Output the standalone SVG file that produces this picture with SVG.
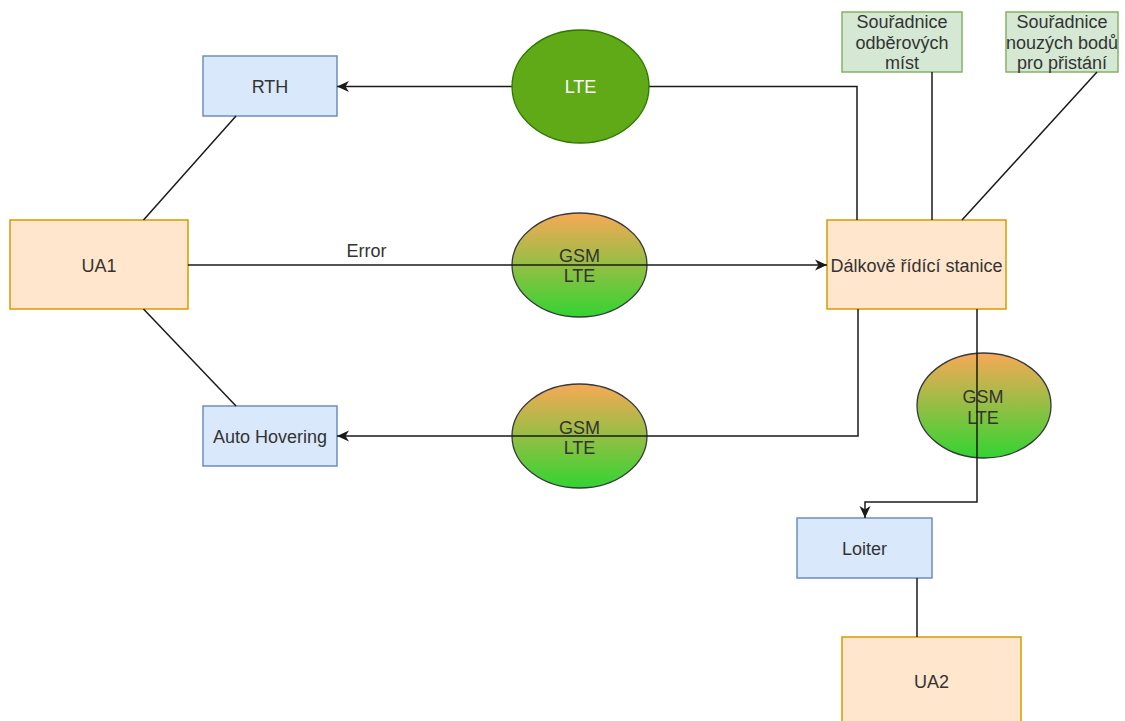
<svg xmlns="http://www.w3.org/2000/svg" width="1125" height="721" viewBox="0 0 1125 721">
  <style>
    text { font-family: "Liberation Sans", Arial, sans-serif; font-size: 18px; fill: #333333; text-anchor: middle; }
    .orange { fill: #ffe6cc; stroke: #d79b00; stroke-width: 1.5; }
    .blue { fill: #dae8fc; stroke: #6c8ebf; stroke-width: 1.5; }
    .green { fill: #d5e8d4; stroke: #82b366; stroke-width: 1.5; }
    .lte { fill: #60a917; stroke: #2d7600; stroke-width: 1.3; }
    .edge { fill: none; stroke: #1a1a1a; stroke-width: 1.5; }
    .white { fill: #ffffff; }
  </style>
  <defs>
    <linearGradient id="gsmFill" x1="0" y1="0" x2="0" y2="1">
      <stop offset="0" stop-color="#f7a956"/>
      <stop offset="1" stop-color="#32d432"/>
    </linearGradient>
    <marker id="arrow" markerUnits="userSpaceOnUse" markerWidth="14" markerHeight="12" viewBox="-12 -6 14 12" refX="0" refY="0" orient="auto">
      <path d="M0,0 L-12,-5.5 L-8.5,0 L-12,5.5 Z" fill="#1a1a1a"/>
    </marker>
  </defs>

  <!-- rectangular nodes -->
  <g id="ua1">
    <rect class="orange" x="10" y="220" width="178" height="89"/>
    <text x="99" y="271.5">UA1</text>
  </g>
  <g id="rth">
    <rect class="blue" x="203" y="56" width="134" height="60"/>
    <text x="270" y="92.5">RTH</text>
  </g>
  <g id="auto-hovering">
    <rect class="blue" x="203" y="406" width="134" height="60"/>
    <text x="270" y="442.5">Auto Hovering</text>
  </g>
  <g id="ground-station">
    <rect class="orange" x="827" y="220" width="179" height="89"/>
    <text x="916.5" y="271.5">Dálkově řídící stanice</text>
  </g>
  <g id="loiter">
    <rect class="blue" x="797" y="518" width="135" height="60"/>
    <text x="864.5" y="554.5">Loiter</text>
  </g>
  <g id="ua2">
    <rect class="orange" x="842" y="637" width="179" height="89"/>
    <text x="931.5" y="688">UA2</text>
  </g>
  <g id="pickup-points">
    <rect class="green" x="842" y="12" width="120" height="60"/>
    <text x="902" y="28">Souřadnice</text>
    <text x="902" y="48.5">odběrových</text>
    <text x="902" y="69">míst</text>
  </g>
  <g id="landing-points">
    <rect class="green" x="1006" y="12" width="112" height="60"/>
    <text x="1062" y="28">Souřadnice</text>
    <text x="1062" y="48.5">nouzých bodů</text>
    <text x="1062" y="69">pro přistání</text>
  </g>

  <!-- GSM/LTE link nodes -->
  <g id="link-error">
    <ellipse cx="579.5" cy="265" rx="67.5" ry="52" fill="url(#gsmFill)" stroke="#36393d" stroke-width="1.3"/>
    <text x="579.5" y="261.5">GSM</text>
    <text x="579.5" y="282">LTE</text>
  </g>
  <g id="link-hover">
    <ellipse cx="579.5" cy="436" rx="67.5" ry="52" fill="url(#gsmFill)" stroke="#36393d" stroke-width="1.3"/>
    <text x="579.5" y="433.5">GSM</text>
    <text x="579.5" y="453.5">LTE</text>
  </g>
  <g id="link-loiter">
    <ellipse cx="984" cy="405.5" rx="67" ry="52.5" fill="url(#gsmFill)" stroke="#36393d" stroke-width="1.3"/>
    <text x="983" y="402.5">GSM</text>
    <text x="983" y="424">LTE</text>
  </g>

  <!-- connectors -->
  <g id="connectors">
    <path class="edge" d="M857,220 V86.5 H337" marker-end="url(#arrow)"/>
    <path class="edge" d="M188,265 H827" marker-end="url(#arrow)"/>
    <path class="edge" d="M858,309 V436 H337" marker-end="url(#arrow)"/>
    <path class="edge" d="M977,309 V502 H865 V518" marker-end="url(#arrow)"/>
    <path class="edge" d="M143.5,220 L236,116"/>
    <path class="edge" d="M143.5,309 L236,406"/>
    <path class="edge" d="M917,578 V637"/>
    <path class="edge" d="M932,72 V220"/>
    <path class="edge" d="M1097,72 L962,220"/>
    <text x="366.5" y="257">Error</text>
  </g>

  <!-- LTE link node (opaque, drawn over its line) -->
  <g id="link-rth">
    <ellipse class="lte" cx="580.5" cy="86.5" rx="68.5" ry="56.5"/>
    <text class="white" x="580.5" y="93">LTE</text>
  </g>
</svg>
